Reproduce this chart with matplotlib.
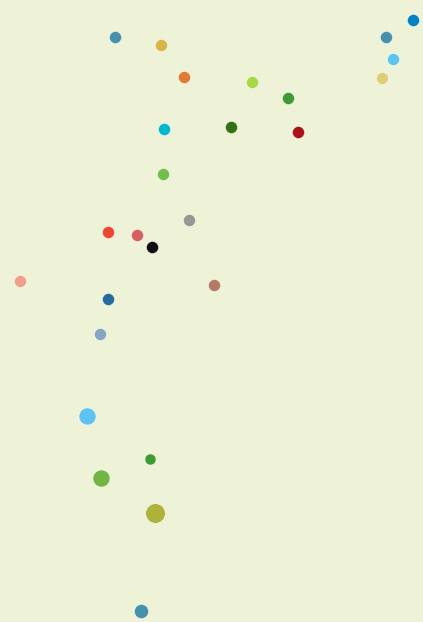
import numpy as np
import matplotlib
matplotlib.use('Agg')
import matplotlib.pyplot as plt

# Define data (positions on a 423 x 622 canvas, y measured downward)
x = [115, 161, 184, 252, 288, 164, 231, 298, 413, 386, 393, 382,
     163, 189, 108, 137, 152, 20, 214, 108, 100,
     87, 150, 101, 155, 141]
y = [37, 45, 77, 82, 98, 129, 127, 132, 20, 37, 59, 78,
     174, 220, 232, 235, 247, 281, 285, 299, 334,
     416, 459, 478, 513, 611]
diam = [12, 12, 12, 12, 12, 12, 12, 12, 12, 12, 12, 12,
        12, 12, 12, 12, 12, 12, 12, 12, 12,
        17, 11, 17, 19.5, 14]
colors = ['#4591ab', '#d8b545', '#e07b33', '#a9d845', '#3d9a35', '#00b8cc',
          '#337012', '#a81318', '#0583c0', '#4591ab', '#5ec4f2', '#e0cd7a',
          '#72bf4c', '#999590', '#ef4630', '#d66060', '#130e14', '#f0a088',
          '#b37a65', '#286a9e', '#85a5c0',
          '#5ec4f2', '#3d9a35', '#72b545', '#adb33a', '#4591ab']

bg = '#eef2d7'

fig = plt.figure(figsize=(4.23, 6.22), dpi=100, facecolor=bg)
ax = fig.add_axes([0, 0, 1, 1])
ax.set_facecolor(bg)

# marker size in points^2 from pixel diameter
sizes = (np.array(diam) * 72 / 100) ** 2
ax.scatter(x, y, s=sizes, c=colors, edgecolors='white', linewidths=0.3)

ax.set_xlim(-0.5, 422.5)
ax.set_ylim(621.5, -0.5)
ax.axis('off')

fig.savefig('out.png', dpi=100, facecolor=bg)
